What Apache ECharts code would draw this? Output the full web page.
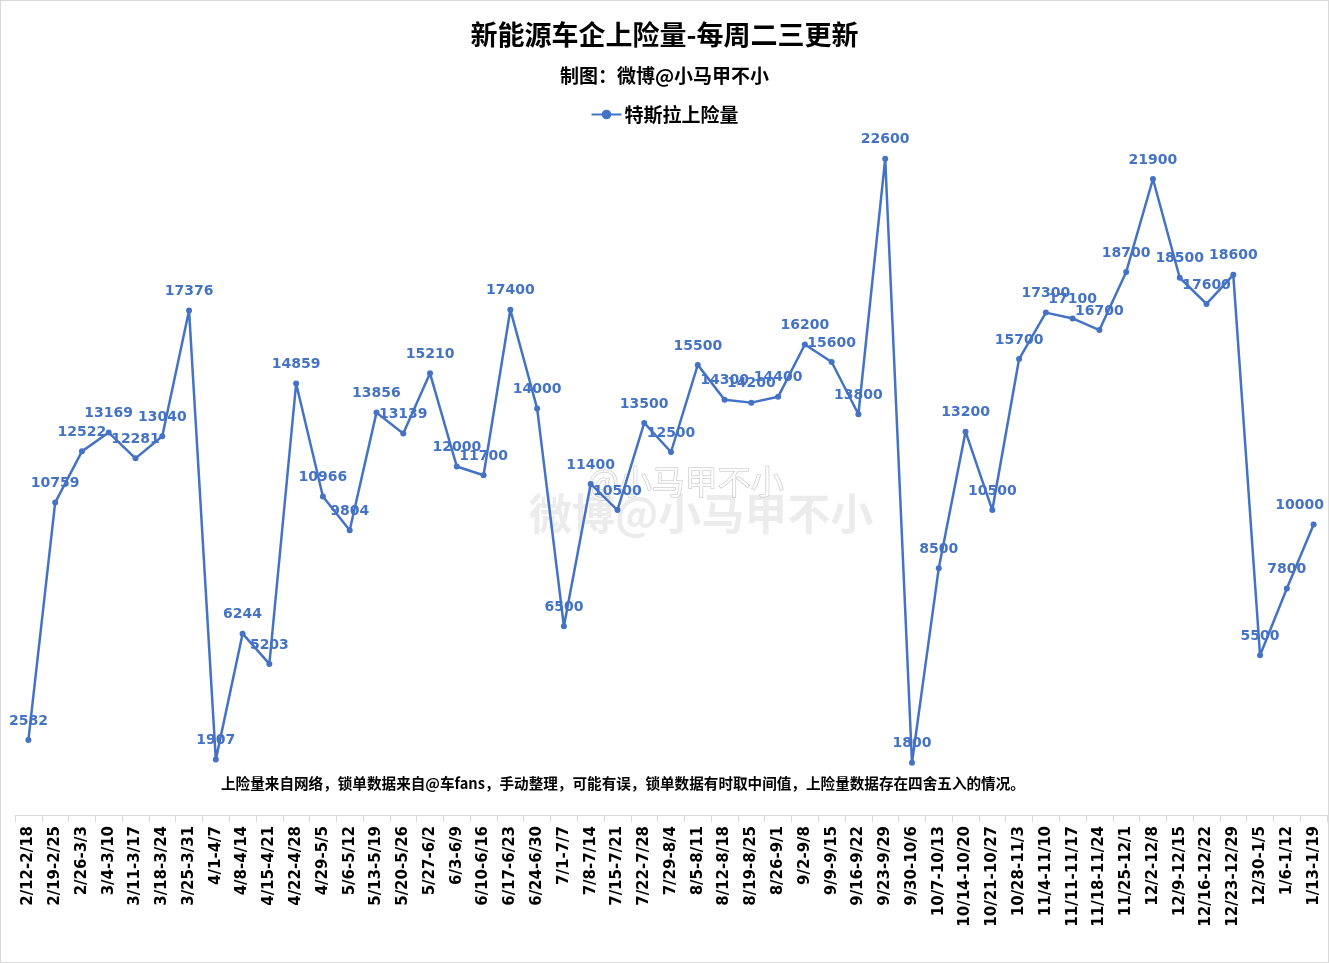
<!DOCTYPE html>
<html>
<head>
<meta charset="utf-8">
<script src="https://cdn.jsdelivr.net/npm/echarts@6/dist/echarts.min.js"></script>
<style>
html,body{margin:0;padding:0;background:#fff;}
#chart{width:1329px;height:963px;box-sizing:border-box;border:1px solid #d9d9d9;}
</style>
</head>
<body>
<div id="chart"></div>
<script>
const categories = ["2/12-2/18","2/19-2/25","2/26-3/3","3/4-3/10","3/11-3/17","3/18-3/24","3/25-3/31","4/1-4/7","4/8-4/14","4/15-4/21","4/22-4/28","4/29-5/5","5/6-5/12","5/13-5/19","5/20-5/26","5/27-6/2","6/3-6/9","6/10-6/16","6/17-6/23","6/24-6/30","7/1-7/7","7/8-7/14","7/15-7/21","7/22-7/28","7/29-8/4","8/5-8/11","8/12-8/18","8/19-8/25","8/26-9/1","9/2-9/8","9/9-9/15","9/16-9/22","9/23-9/29","9/30-10/6","10/7-10/13","10/14-10/20","10/21-10/27","10/28-11/3","11/4-11/10","11/11-11/17","11/18-11/24","11/25-12/1","12/2-12/8","12/9-12/15","12/16-12/22","12/23-12/29","12/30-1/5","1/6-1/12","1/13-1/19"];
const teslaInsurance = [2582,10759,12522,13169,12281,13040,17376,1907,6244,5203,14859,10966,9804,13856,13139,15210,12000,11700,17400,14000,6500,11400,10500,13500,12500,15500,14300,14200,14400,16200,15600,13800,22600,1800,8500,13200,10500,15700,17300,17100,16700,18700,21900,18500,17600,18600,5500,7800,10000];
const seriesName = "特斯拉上险量";
const titleText = "新能源车企上险量-每周二三更新";
const subtitleText = "制图：微博@小马甲不小";
const noteText = "上险量来自网络，锁单数据来自@车fans，手动整理，可能有误，锁单数据有时取中间值，上险量数据存在四舍五入的情况。";

const cjk = '"Noto Sans CJK SC", "Noto Sans", sans-serif';
const num = '"DejaVu Sans", "Noto Sans CJK SC", sans-serif';
const blue = '#4472C4';
const lastIdx = teslaInsurance.length - 1;
const seriesData = teslaInsurance.map((v, i) => i === lastIdx ? {value: v, label: {offset: [-14, 0]}} : v);

const chart = echarts.init(document.getElementById('chart'));
chart.setOption({
  backgroundColor: '#fff',
  animation: false,
  title: [
    {text: titleText, left: 'center', top: 15, textStyle: {fontFamily: cjk, fontSize: 27, fontWeight: 'bold', color: '#000'}},
    {text: subtitleText, left: 'center', top: 60, textStyle: {fontFamily: cjk, fontSize: 19, fontWeight: 'bold', color: '#000'}}
  ],
  legend: {
    data: [seriesName], top: 99, left: 'center',
    itemWidth: 30, itemHeight: 12, itemGap: 4,
    textStyle: {fontFamily: cjk, fontSize: 19, fontWeight: 'bold', color: '#000', padding: [0, 0, 0, -2]}
  },
  grid: {left: 14, right: 1, top: 88, bottom: 147},
  xAxis: {
    type: 'category', data: categories, boundaryGap: true,
    axisLine: {lineStyle: {color: '#d9d9d9', width: 1}},
    axisTick: {show: true, length: 7, alignWithLabel: false, lineStyle: {color: '#d9d9d9'}},
    axisLabel: {rotate: 90, interval: 0, margin: 11, fontFamily: num, fontSize: 15, fontWeight: 'bold', color: '#000'}
  },
  yAxis: {type: 'value', min: 0, max: 25000, show: false, splitLine: {show: false}},
  series: [{
    name: seriesName, type: 'line', data: seriesData,
    symbol: 'circle', symbolSize: 6,
    lineStyle: {color: blue, width: 2.5},
    itemStyle: {color: blue},
    label: {show: true, position: 'top', distance: 9, color: blue, fontFamily: num, fontSize: 14, fontWeight: 'bold'}
  }],
  graphic: [
    {type: 'text', left: 220, top: 775, style: {text: noteText, font: 'bold 14.6px "Noto Sans CJK SC", sans-serif', fill: '#000'}},
    {type: 'text', left: 528, top: 491, silent: true, style: {text: '微博@小马甲不小', font: 'bold 43px "Noto Sans CJK SC", sans-serif', fill: 'rgba(200,200,200,0.35)'}},
    {type: 'text', left: 586, top: 463, silent: true, style: {text: '@小马甲不小', font: '33px "Noto Sans CJK SC", sans-serif', fill: 'rgba(255,255,255,0.8)', stroke: 'rgba(150,150,150,0.6)', lineWidth: 1}}
  ]
});
</script>
</body>
</html>
